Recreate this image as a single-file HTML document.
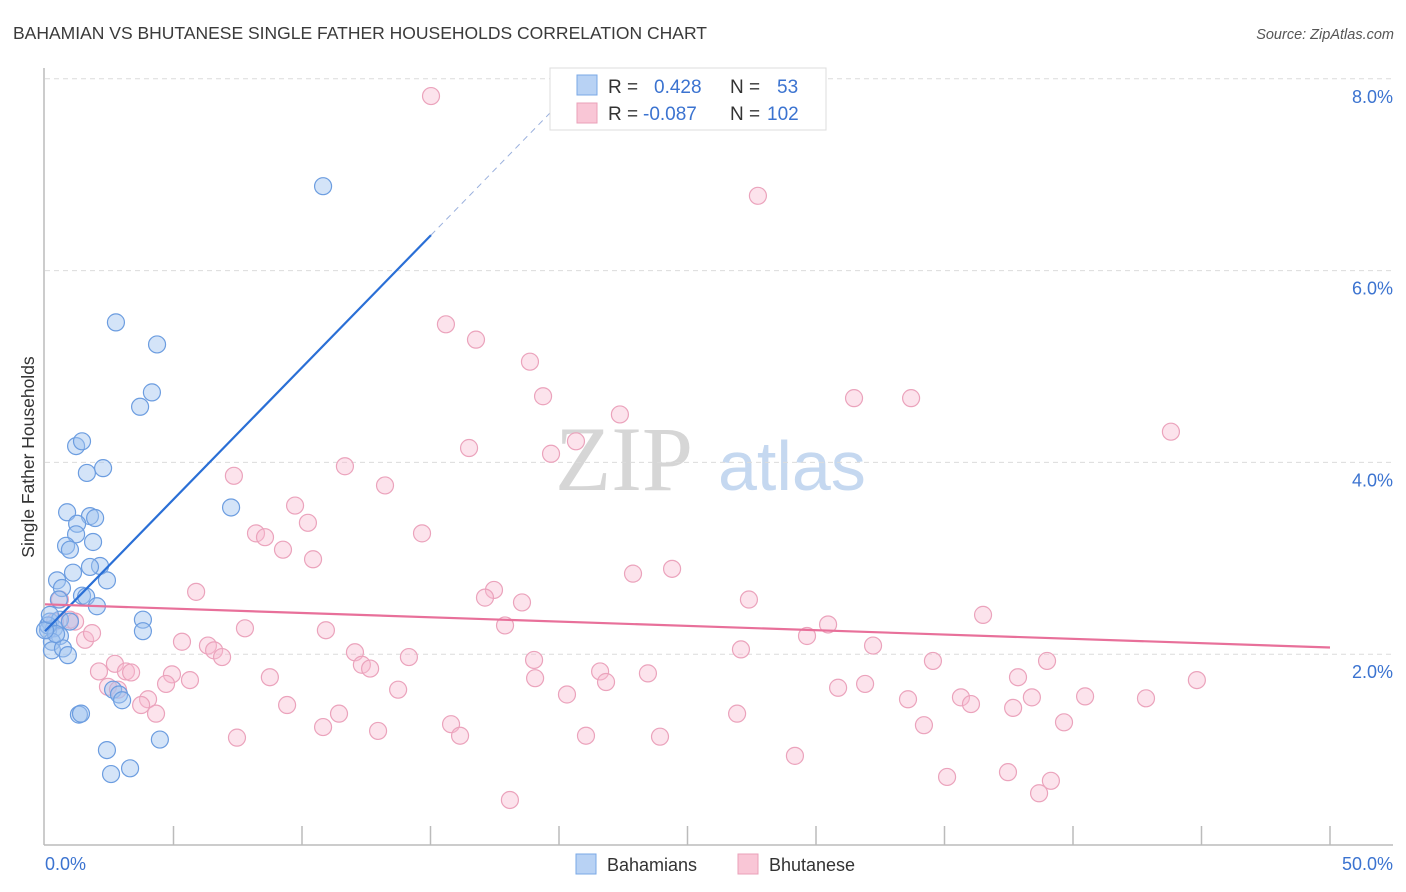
<!DOCTYPE html>
<html><head><meta charset="utf-8"><style>
body{margin:0;background:#fff;font-family:"Liberation Sans",sans-serif;}
svg{display:block}
</style></head><body>
<svg id="chart" width="1406" height="892" xmlns="http://www.w3.org/2000/svg">
<text x="13" y="39" font-size="17.5" fill="#3a3a3a">BAHAMIAN VS BHUTANESE SINGLE FATHER HOUSEHOLDS CORRELATION CHART</text>
<text x="1394" y="39" font-size="14.5" fill="#555" font-style="italic" text-anchor="end">Source: ZipAtlas.com</text>
<g><text x="555" y="490" font-size="92" fill="#d6d6d6" font-family="Liberation Serif, serif">ZIP</text><text x="718" y="490" font-size="70" fill="#c5d8f0">atlas</text></g>
<g id="grid"></g>
<g id="axes"></g>
<g id="marks"></g>
<text transform="translate(34,457) rotate(-90)" font-size="17.5" fill="#333" text-anchor="middle">Single Father Households</text>
<g>
<rect x="550" y="68" width="276" height="62" fill="#fff" stroke="#ddd"/>
<rect x="577" y="75" width="20" height="20" fill="#b8d2f4" stroke="#7aa8e6"/>
<rect x="577" y="103" width="20" height="20" fill="#f9c6d6" stroke="#eaa0b8"/>
<text x="608" y="93" font-size="19" fill="#333">R = </text><text x="654" y="93" font-size="19" fill="#3b73d0">0.428</text>
<text x="730" y="93" font-size="19" fill="#333">N = </text><text x="777" y="93" font-size="19" fill="#3b73d0">53</text>
<text x="608" y="120" font-size="19" fill="#333">R = </text><text x="643" y="120" font-size="19" fill="#3b73d0">-0.087</text>
<text x="730" y="120" font-size="19" fill="#333">N = </text><text x="767" y="120" font-size="19" fill="#3b73d0">102</text>
</g>
<g>
<rect x="576" y="854" width="20" height="20" fill="#b8d2f4" stroke="#7aa8e6"/>
<text x="607" y="871" font-size="18" fill="#333">Bahamians</text>
<rect x="738" y="854" width="20" height="20" fill="#f9c6d6" stroke="#eaa0b8"/>
<text x="769" y="871" font-size="18" fill="#333">Bhutanese</text>
</g>
</svg>
<script>
const xTicks=[0,5,10,15,20,25,30,35,40,45,50];
const yTicks=[2,4,6,8];
const bahX=[10.82,2.76,4.36,4.16,3.70,1.21,1.44,1.63,2.26,7.24,0.86,1.75,1.95,1.25,1.21,1.87,0.82,0.97,2.14,1.09,1.75,2.41,0.47,0.66,1.44,1.60,2.02,0.54,3.81,3.81,0.19,0.35,0.12,0.58,0.27,0.27,0.70,0.89,2.65,2.88,3.00,1.32,1.40,2.41,2.57,3.31,4.47,0.58,0.97,0.12,0.43,0.0,0.19];
const bahY=[6.88,5.46,5.23,4.73,4.58,4.17,4.22,3.89,3.94,3.53,3.48,3.44,3.42,3.36,3.25,3.17,3.13,3.09,2.92,2.85,2.91,2.77,2.77,2.69,2.61,2.60,2.50,2.57,2.36,2.24,2.34,2.27,2.25,2.19,2.13,2.04,2.06,1.99,1.63,1.58,1.52,1.37,1.38,1.00,0.75,0.81,1.11,2.36,2.34,2.30,2.21,2.25,2.41];
const bhuX=[15.02,27.74,15.60,16.77,18.87,19.38,22.37,20.66,16.50,19.69,33.70,31.48,43.81,11.67,7.35,13.23,9.73,10.23,8.21,8.56,14.67,9.26,10.43,24.40,22.88,17.47,17.12,18.56,27.39,5.88,36.50,30.47,29.65,17.90,10.93,7.78,5.33,6.34,6.58,6.89,32.22,27.08,12.06,14.16,12.33,12.65,19.03,21.60,21.83,23.46,34.55,38.99,37.86,44.82,4.94,2.10,2.72,3.15,3.35,2.45,2.84,4.71,5.64,8.75,4.01,3.74,13.74,19.07,20.31,30.86,31.91,38.40,40.47,42.84,33.58,35.64,36.03,9.42,4.32,11.44,37.67,26.93,15.80,10.82,12.96,39.65,34.20,16.15,21.05,23.93,7.47,29.18,35.10,37.47,39.14,38.68,18.09,0.58,0.97,1.56,1.83,1.17,0.39];
const bhuY=[7.82,6.78,5.44,5.28,5.05,4.69,4.50,4.22,4.15,4.09,4.67,4.67,4.32,3.96,3.86,3.76,3.55,3.37,3.26,3.22,3.26,3.09,2.99,2.89,2.84,2.67,2.59,2.54,2.57,2.65,2.41,2.31,2.19,2.30,2.25,2.27,2.13,2.09,2.04,1.97,2.09,2.05,2.02,1.97,1.89,1.85,1.94,1.82,1.71,1.80,1.93,1.93,1.76,1.73,1.79,1.82,1.90,1.82,1.81,1.66,1.63,1.69,1.73,1.76,1.53,1.47,1.63,1.75,1.58,1.65,1.69,1.55,1.56,1.54,1.53,1.55,1.48,1.47,1.38,1.38,1.44,1.38,1.27,1.24,1.20,1.29,1.26,1.15,1.15,1.14,1.13,0.94,0.72,0.77,0.68,0.55,0.48,2.57,2.36,2.15,2.22,2.34,2.34];
const bahTrend=[2.24,6.37,7.96];
const bahTrendX=[0,15.02,20.8];
const bhuTrend=[2.52,2.07];
const bhuTrendX=[0,50];

const NS='http://www.w3.org/2000/svg';
const X=v=>45+v*25.7;
const Y=v=>846-v*95.9;
function mk(tag,attrs,parent){const e=document.createElementNS(NS,tag);for(const k in attrs)e.setAttribute(k,attrs[k]);parent.appendChild(e);return e;}
const grid=document.getElementById('grid'),axes=document.getElementById('axes'),marks=document.getElementById('marks');
yTicks.forEach(t=>{
  const l=mk('line',{x1:45,x2:1393,y1:Y(t),y2:Y(t),stroke:'#dcdcdc','stroke-dasharray':'5,4'},grid);
  
  
  const tx=mk('text',{x:1393,y:Y(t)+24,'font-size':18,fill:'#3b73d0','text-anchor':'end'},axes);
  tx.textContent=t.toFixed(1)+'%';
  
  
});
const ax=mk('line',{x1:44,x2:1393,y1:845,y2:845,stroke:'#bbb','stroke-width':1.5},axes);


const ay=mk('line',{x1:44,x2:44,y1:68,y2:845,stroke:'#bbb','stroke-width':1.5},axes);


xTicks.forEach((t,i)=>{
  if(i>0){const tk=mk('line',{x1:X(t),x2:X(t),y1:826,y2:845,stroke:'#bbb','stroke-width':1.5},axes);
  
  }
});
[[0,'start',45],[50,'end',1393]].forEach(([t,a,xp])=>{
  const tx=mk('text',{x:xp,y:870,'font-size':18,fill:'#3b73d0','text-anchor':a},axes);
  tx.textContent=t.toFixed(1)+'%';
  
  
});
bhuX.forEach((x,i)=>{
  const c=mk('circle',{cx:X(x),cy:Y(bhuY[i]),r:8.5,fill:'rgba(248,185,207,0.4)',stroke:'#eba3bc','stroke-width':1.2},marks);
  
  
});
bahX.forEach((x,i)=>{
  const c=mk('circle',{cx:X(x),cy:Y(bahY[i]),r:8.5,fill:'rgba(160,196,240,0.45)',stroke:'#6c9de0','stroke-width':1.2},marks);
  
  
});
const bl=mk('line',{x1:X(bahTrendX[0]),y1:Y(bahTrend[0]),x2:X(bahTrendX[1]),y2:Y(bahTrend[1]),stroke:'#2a6fd6','stroke-width':2.2},marks);


const bd=mk('line',{x1:X(bahTrendX[1]),y1:Y(bahTrend[1]),x2:X(bahTrendX[2]),y2:Y(bahTrend[2]),stroke:'#9ab0dd','stroke-width':1,'stroke-dasharray':'6,5'},marks);


const pl=mk('line',{x1:X(bhuTrendX[0]),y1:Y(bhuTrend[0]),x2:X(bhuTrendX[1]),y2:Y(bhuTrend[1]),stroke:'#e8709a','stroke-width':2.2},marks);


</script>
</body></html>
